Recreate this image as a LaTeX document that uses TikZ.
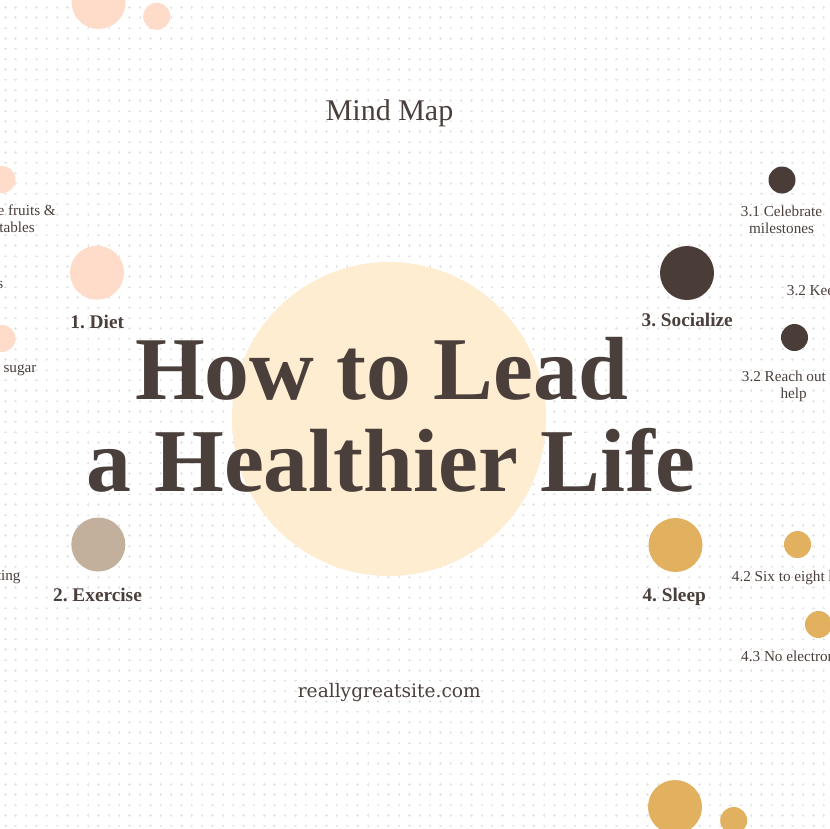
\documentclass[tikz,border=0pt]{standalone}
\usepackage{fontspec}
\setmainfont{Liberation Serif}
\newfontfamily\dvs{DejaVu Serif}
\frenchspacing
\definecolor{peach}{HTML}{FFDCCA}
\definecolor{taupe}{HTML}{C2B09C}
\definecolor{darkb}{HTML}{4A3D38}
\definecolor{gold}{HTML}{E1B160}
\definecolor{cream}{HTML}{FEEDD1}
\definecolor{ink}{HTML}{4A3F3B}
\definecolor{gridc}{HTML}{E3E3E3}
\tikzset{
  bigdot/.style={circle, inner sep=0pt, minimum size=54pt},
  smalldot/.style={circle, inner sep=0pt, minimum size=27pt},
  headlbl/.style={font=\bfseries\fontsize{19.3}{23}\selectfont, text=ink, inner sep=0pt, anchor=base},
  sublbl/.style={font=\fontsize{15.2}{17}\selectfont, text=ink, inner sep=0pt},
}
\begin{document}
\frenchspacing
\begin{tikzpicture}[x=1pt,y=-1pt]
\useasboundingbox (0,0) rectangle (830,828);
\fill[white] (0,0) rectangle (830,828);
\begin{scope}
\clip (0,0) rectangle (830,828);
% background grid of small plus marks
\foreach \j in {0,...,80}
  \draw[gridc, line width=0.7pt, dash pattern=on 2.4pt off 7.96pt] (-6.26,7.3+\j*10.36) -- (840,7.3+\j*10.36);
\foreach \i in {0,...,80}
  \draw[gridc, line width=0.7pt, dash pattern=on 2.4pt off 7.96pt] (5.3+\i*10.36,-4.26) -- (5.3+\i*10.36,840);
% central circle
\node[circle, inner sep=0pt, minimum size=314pt, fill=cream] (hub) at (389,419) {};
% peach dots
\node[bigdot, fill=peach] (topa) at (98.5,2) {};
\node[smalldot, fill=peach] (topb) at (156.7,16.3) {};
\node[smalldot, fill=peach] (d1) at (2,179.5) {};
\node[bigdot, fill=peach] (diet) at (97,272.7) {};
\node[smalldot, fill=peach] (d2) at (2,338.5) {};
% taupe
\node[bigdot, fill=taupe] (exer) at (98.3,544.5) {};
% dark
\node[bigdot, fill=darkb] (soc) at (687,273) {};
\node[smalldot, fill=darkb] (s1) at (782,180) {};
\node[smalldot, fill=darkb] (s2) at (794.5,337.5) {};
% gold
\node[bigdot, fill=gold] (sleep) at (675.5,545) {};
\node[smalldot, fill=gold] (z2) at (797.5,544.5) {};
\node[smalldot, fill=gold] (z3) at (818.5,624.5) {};
\node[bigdot, fill=gold] (bota) at (675,807) {};
\node[smalldot, fill=gold] (botb) at (733.7,820.5) {};
% titles
\node[font=\fontsize{30}{36}\selectfont, text=ink, inner sep=0pt, anchor=base] (mm) at (389.5,120.7) {Mind Map};
\node[text=ink, inner sep=0pt, anchor=base] (t1) at (381.5,399) {\resizebox{493pt}{!}{\bfseries\fontsize{88}{93}\selectfont How to Lead}};
\node[text=ink, inner sep=0pt, anchor=base] (t2) at (391,491) {\resizebox{608pt}{!}{\bfseries\fontsize{88}{93}\selectfont a Healthier Life}};
\node[font=\dvs\fontsize{18.6}{22}\selectfont, text=ink, inner sep=0pt, anchor=base] (site) at (389.3,697.7) {reallygreatsite.com};
% main labels
\node[headlbl] (ldiet) at (97.2,328.3) {1. Diet};
\node[headlbl] (lexer) at (97.5,601.5) {2. Exercise};
\node[headlbl] (lsoc) at (687.2,326.7) {3. Socialize};
\node[headlbl] (lsleep) at (674.2,601.7) {4. Sleep};
% sub labels right
\node[sublbl, anchor=base] (ls1a) at (781.5,216.7) {3.1 Celebrate};
\node[sublbl, anchor=base] (ls1b) at (781.5,233.3) {milestones};
\node[sublbl, anchor=base west] (ls2) at (786.7,295) {3.2 Kee};
\node[sublbl, anchor=base west] (ls3a) at (741.7,381.7) {3.2 Reach out f};
\node[sublbl, anchor=base] (ls3b) at (793.7,398.5) {help};
\node[sublbl, anchor=base west] (lz2) at (731.7,581.7) {4.2 Six to eight h};
\node[sublbl, anchor=base west] (lz3) at (741,661.7) {4.3 No electron};
% sub labels left
\node[sublbl, anchor=base east] (ld1a) at (56,215) {e fruits \&};
\node[sublbl, anchor=base east] (ld1b) at (35,232) {tables};
\node[sublbl, anchor=base east] (ldx) at (3.5,288) {s};
\node[sublbl, anchor=base west] (ld2) at (3.3,372) {sugar};
\node[sublbl, anchor=base east] (lex) at (20.7,580) {ting};
\end{scope}
\end{tikzpicture}
\end{document}
